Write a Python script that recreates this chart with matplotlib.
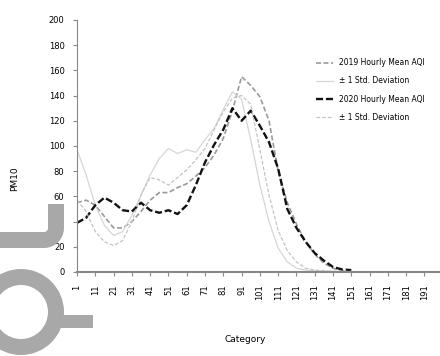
import numpy as np
import matplotlib.pyplot as plt
from matplotlib.patches import Circle, Rectangle

# sample index (every 5th point)
x = [1, 6, 11, 16, 21, 26, 31, 36, 41, 46, 51, 56, 61, 66, 71, 76,
     81, 86, 91, 96, 101, 106, 111, 116, 121, 126, 131, 136, 141, 146, 151]

series_a = [55, 57, 53, 44, 35, 35, 40, 48, 57, 63, 63, 67, 70, 76, 83, 93,
            106, 128, 155, 148, 139, 120, 80, 55, 38, 24, 14, 7, 3, 1, 0.5]
series_b = [97, 77, 53, 37, 29, 32, 45, 61, 77, 90, 98, 94, 97, 95, 105, 114,
            129, 143, 137, 105, 69, 40, 19, 8, 3, 1.5, 1, 0.5, 0.5, 0.5, 0.5]
series_c = [39, 43, 53, 59, 55, 49, 48, 55, 49, 47, 49, 46, 53, 69, 87, 101,
            113, 130, 120, 128, 116, 103, 82, 50, 35, 24, 15, 9, 4, 2, 1.5]
series_d = [57, 48, 32, 24, 21, 25, 40, 61, 75, 73, 69, 75, 81, 89, 98, 113,
            127, 138, 140, 133, 97, 61, 33, 17, 8, 3, 1.5, 1, 0.5, 0.5, 0.5]

labels = ["2019 Hourly Mean AQI", "\u00b1 1 Std. Deviation",
          "2020 Hourly Mean AQI", "\u00b1 1 Std. Deviation"]
xticks = list(range(1, 192, 10))
yticks = list(range(0, 201, 20))

fig = plt.figure(figsize=(4.4, 3.56), dpi=100)
ax = fig.add_axes([0.175, 0.236, 0.825, 0.708])

ax.plot(x, series_a, color='#9a9a9a', lw=1.2, ls=(0, (3, 1.5)), label=labels[0])
ax.plot(x, series_b, color='#d6d6d6', lw=0.9, label=labels[1])
ax.plot(x, series_c, color='#111111', lw=1.7, ls=(0, (3, 1.2)), label=labels[2])
ax.plot(x, series_d, color='#c4c4c4', lw=0.9, ls=(0, (3, 1.5)), label=labels[3])

ax.set_xlim(1, 199.5)
ax.set_ylim(0, 200)
ax.set_xticks(xticks)
ax.set_xticklabels([str(t) for t in xticks], rotation=90, fontsize=6)
ax.set_yticks(yticks)
ax.set_yticklabels([str(t) for t in yticks], fontsize=6)
ax.tick_params(length=3, color='#888888', pad=6)

for side in ['top', 'right']:
    ax.spines[side].set_visible(False)
ax.spines['left'].set_color('#888888')
ax.spines['bottom'].set_color('#888888')
ax.spines['bottom'].set_linewidth(1.5)

ax.set_xlabel("Category", fontsize=6.5)
ax.xaxis.set_label_coords(0.463, -0.25)
ax.set_ylabel("PM10", fontsize=6.5)
ax.yaxis.set_label_coords(-0.16, 0.37)

ax.legend(loc='upper left', bbox_to_anchor=(0.64, 0.875), frameon=False,
          fontsize=5.5, handlelength=2.2, labelspacing=1.2)

# gray shape along the left edge, drawn in pixel coordinates
ov = fig.add_axes([0, 0, 1, 1])
ov.set_xlim(0, 440)
ov.set_ylim(356, 0)
ov.axis('off')
shape_gray = '#a8a8a8'
t = np.linspace(0, np.pi / 2, 20)
hook_x = np.concatenate([[56, 56], 44 + 12 * np.cos(t), [0]])
hook_y = np.concatenate([[204, 228], 228 + 12 * np.sin(t), [240]])
ov.plot(hook_x, hook_y, color=shape_gray, lw=11.5, solid_capstyle='butt')
ov.add_patch(Circle((21, 312), 35, fill=False, ec=shape_gray, lw=11.5))
ov.add_patch(Rectangle((60, 315), 33, 13, color=shape_gray, lw=0))

plt.savefig("out.png", dpi=100)
